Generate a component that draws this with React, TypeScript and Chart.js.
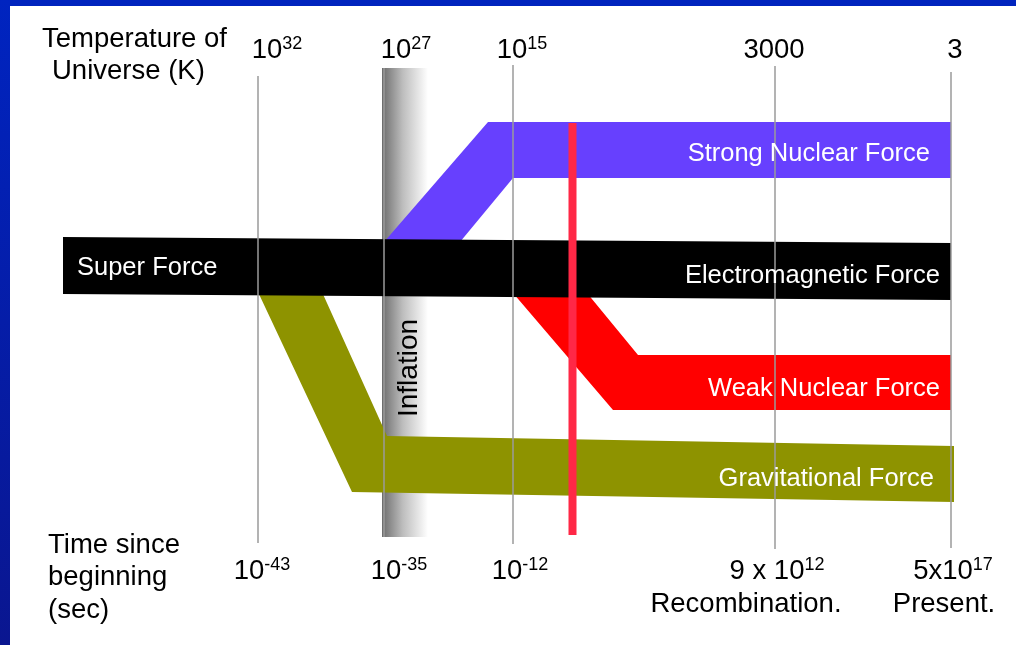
import React, { useEffect, useRef } from "react";
import { Chart, registerables } from "chart.js";
Chart.register(...registerables);

// ---- Timeline epochs (schematic diagram units) ----
const epochX = [258, 384, 513, 775, 951];
const gridTop = [76, 68, 65, 66, 72];
const gridBottom = [543, 537, 544, 549, 548];

const temperatureTicks = ["10^32", "10^27", "10^15", "3000", "3"];
const temperatureLabelX = [277, 406, 522, 774, 955];
const timeTicks = ["10^-43", "10^-35", "10^-12", "9 x 10^12", "5x10^17"];
const timeLabelX = [262, 399, 520, 777, 953];
const timeNotes = ["", "", "", "Recombination.", "Present."];
const timeNoteX = [0, 0, 0, 746, 944];

// ---- Force bands (outline vertices) ----
const superForceX = [63, 951, 951, 63];
const superForceY = [237, 243, 300, 294];
const strongX = [384, 488, 951, 951, 513, 460];
const strongY = [242, 122, 122, 178, 178, 242];
const weakX = [513, 587, 638, 951, 951, 613];
const weakY = [293, 293, 355, 355, 410, 410];
const gravX = [258, 322, 387, 954, 954, 352];
const gravY = [292, 292, 436, 446, 502, 492];
const inflationX = [382, 428, 428, 382];
const inflationY = [68, 68, 537, 537];
const markerX = [572.5, 572.5];
const markerY = [123, 535];

const bandLabels = ["Super Force", "Strong Nuclear Force", "Electromagnetic Force", "Weak Nuclear Force", "Gravitational Force"];
const bandLabelX = [77, 930, 940, 940, 934];
const bandLabelY = [275, 161, 283, 396, 486];
const bandLabelAlign = ["left", "right", "right", "right", "right"];

const FONT = '"Liberation Sans", Arial, Helvetica, sans-serif';

const pts = (xs: number[], ys: number[]) => xs.map((x, i) => ({ x, y: ys[i] }));

function drawSup(ctx: CanvasRenderingContext2D, text: string, cx: number, baseY: number, size: number) {
  const [base, sup] = text.split("^");
  ctx.font = `${size}px ${FONT}`;
  const bw = ctx.measureText(base).width;
  const supSize = Math.round(size * 0.64);
  ctx.font = `${supSize}px ${FONT}`;
  const sw = sup ? ctx.measureText(sup).width : 0;
  const left = cx - (bw + sw) / 2;
  ctx.textAlign = "left";
  ctx.textBaseline = "alphabetic";
  ctx.font = `${size}px ${FONT}`;
  ctx.fillText(base, left, baseY);
  if (sup) {
    ctx.font = `${supSize}px ${FONT}`;
    ctx.fillText(sup, left + bw, baseY - size * 0.34);
  }
}

const framePlugin = {
  id: "frame",
  beforeDraw(chart: any) {
    const { ctx, width, height } = chart;
    ctx.save();
    ctx.fillStyle = "#ffffff";
    ctx.fillRect(0, 0, width, height);
    ctx.fillStyle = "#0024be";
    ctx.fillRect(0, 0, width, 6);
    const g = ctx.createLinearGradient(0, 0, 0, height);
    g.addColorStop(0, "#0024c0");
    g.addColorStop(1, "#0a1690");
    ctx.fillStyle = g;
    ctx.fillRect(0, 0, 10, height);
    ctx.restore();
  },
};

const textPlugin = {
  id: "texts",
  afterDatasetsDraw(chart: any) {
    const { ctx } = chart;
    const xs = chart.scales.x;
    const ys = chart.scales.y;
    const px = (v: number) => xs.getPixelForValue(v);
    const py = (v: number) => ys.getPixelForValue(v);
    ctx.save();
    ctx.fillStyle = "#000000";
    ctx.textBaseline = "alphabetic";
    ctx.textAlign = "left";
    ctx.font = `27.5px ${FONT}`;
    ctx.fillText("Temperature of", px(42), py(47));
    ctx.fillText("Universe (K)", px(52), py(79));
    ctx.fillText("Time since", px(48), py(553));
    ctx.fillText("beginning", px(48), py(585));
    ctx.fillText("(sec)", px(48), py(618));

    temperatureTicks.forEach((t, i) => drawSup(ctx, t, px(temperatureLabelX[i]), py(58), 27.5));
    timeTicks.forEach((t, i) => drawSup(ctx, t, px(timeLabelX[i]), py(579), 27.5));
    ctx.font = `27.5px ${FONT}`;
    ctx.textAlign = "center";
    timeNotes.forEach((t, i) => {
      if (t) ctx.fillText(t, px(timeNoteX[i]), py(612));
    });

    ctx.fillStyle = "#ffffff";
    ctx.font = `25.5px ${FONT}`;
    bandLabels.forEach((t, i) => {
      ctx.textAlign = bandLabelAlign[i];
      ctx.fillText(t, px(bandLabelX[i]), py(bandLabelY[i]));
    });

    ctx.fillStyle = "#000000";
    ctx.translate(px(409), py(368));
    ctx.rotate(-Math.PI / 2);
    ctx.textAlign = "center";
    ctx.textBaseline = "middle";
    ctx.font = `28px ${FONT}`;
    ctx.fillText("Inflation", 0, 0);
    ctx.restore();
  },
};

export default function App() {
  const ref = useRef<HTMLCanvasElement | null>(null);
  useEffect(() => {
    if (!ref.current) return;
    const poly = (xs: number[], ys: number[], color: any, order: number) => ({
      type: "line",
      data: pts(xs, ys),
      showLine: true,
      fill: "shape",
      backgroundColor: color,
      borderWidth: 0,
      borderColor: "rgba(0,0,0,0)",
      pointRadius: 0,
      tension: 0,
      order,
    });
    const inflationFill = (c: any) => {
      const ch = c.chart;
      const xs = ch.scales && ch.scales.x;
      if (!xs || !ch.chartArea) return "#aaaaaa";
      const a = xs.getPixelForValue(382);
      const b = xs.getPixelForValue(428);
      if (!isFinite(a) || !isFinite(b)) return "#aaaaaa";
      const g = ch.ctx.createLinearGradient(a, 0, b, 0);
      g.addColorStop(0, "#6c6c6c");
      g.addColorStop(0.45, "#bdbdbd");
      g.addColorStop(1, "#ffffff");
      return g;
    };
    const gridSets = epochX.map((x, i) => ({
      type: "line",
      data: pts([x, x], [gridTop[i], gridBottom[i]]),
      showLine: true,
      fill: false,
      borderColor: "#9a9a9a",
      borderWidth: 1.5,
      pointRadius: 0,
      order: 5,
    }));
    const chart = new Chart(ref.current, {
      type: "scatter",
      data: {
        datasets: [
          poly(inflationX, inflationY, inflationFill, 10),
          poly(strongX, strongY, "#6740fe", 8),
          poly(weakX, weakY, "#ff0000", 8),
          poly(gravX, gravY, "#8e9300", 8),
          poly(superForceX, superForceY, "#000000", 7),
          ...gridSets,
          {
            type: "line",
            data: pts(markerX, markerY),
            showLine: true,
            fill: false,
            borderColor: "#ff2846",
            borderWidth: 8,
            borderCapStyle: "butt",
            pointRadius: 0,
            order: 1,
          },
        ] as any,
      },
      options: {
        responsive: false,
        animation: false,
        devicePixelRatio: 1,
        layout: { padding: 0 },
        plugins: { legend: { display: false }, tooltip: { enabled: false }, title: { display: false } },
        events: [],
        scales: {
          x: { type: "linear", min: 0, max: 1016, display: false },
          y: { type: "linear", min: 0, max: 645, reverse: true, display: false },
        },
      } as any,
      plugins: [framePlugin, textPlugin],
    });
    return () => chart.destroy();
  }, []);
  return (
    <div style={{ position: "fixed", left: 0, top: 0, width: 1016, height: 645, background: "#fff" }}>
      <canvas ref={ref} width={1016} height={645} style={{ display: "block" }} />
    </div>
  );
}
